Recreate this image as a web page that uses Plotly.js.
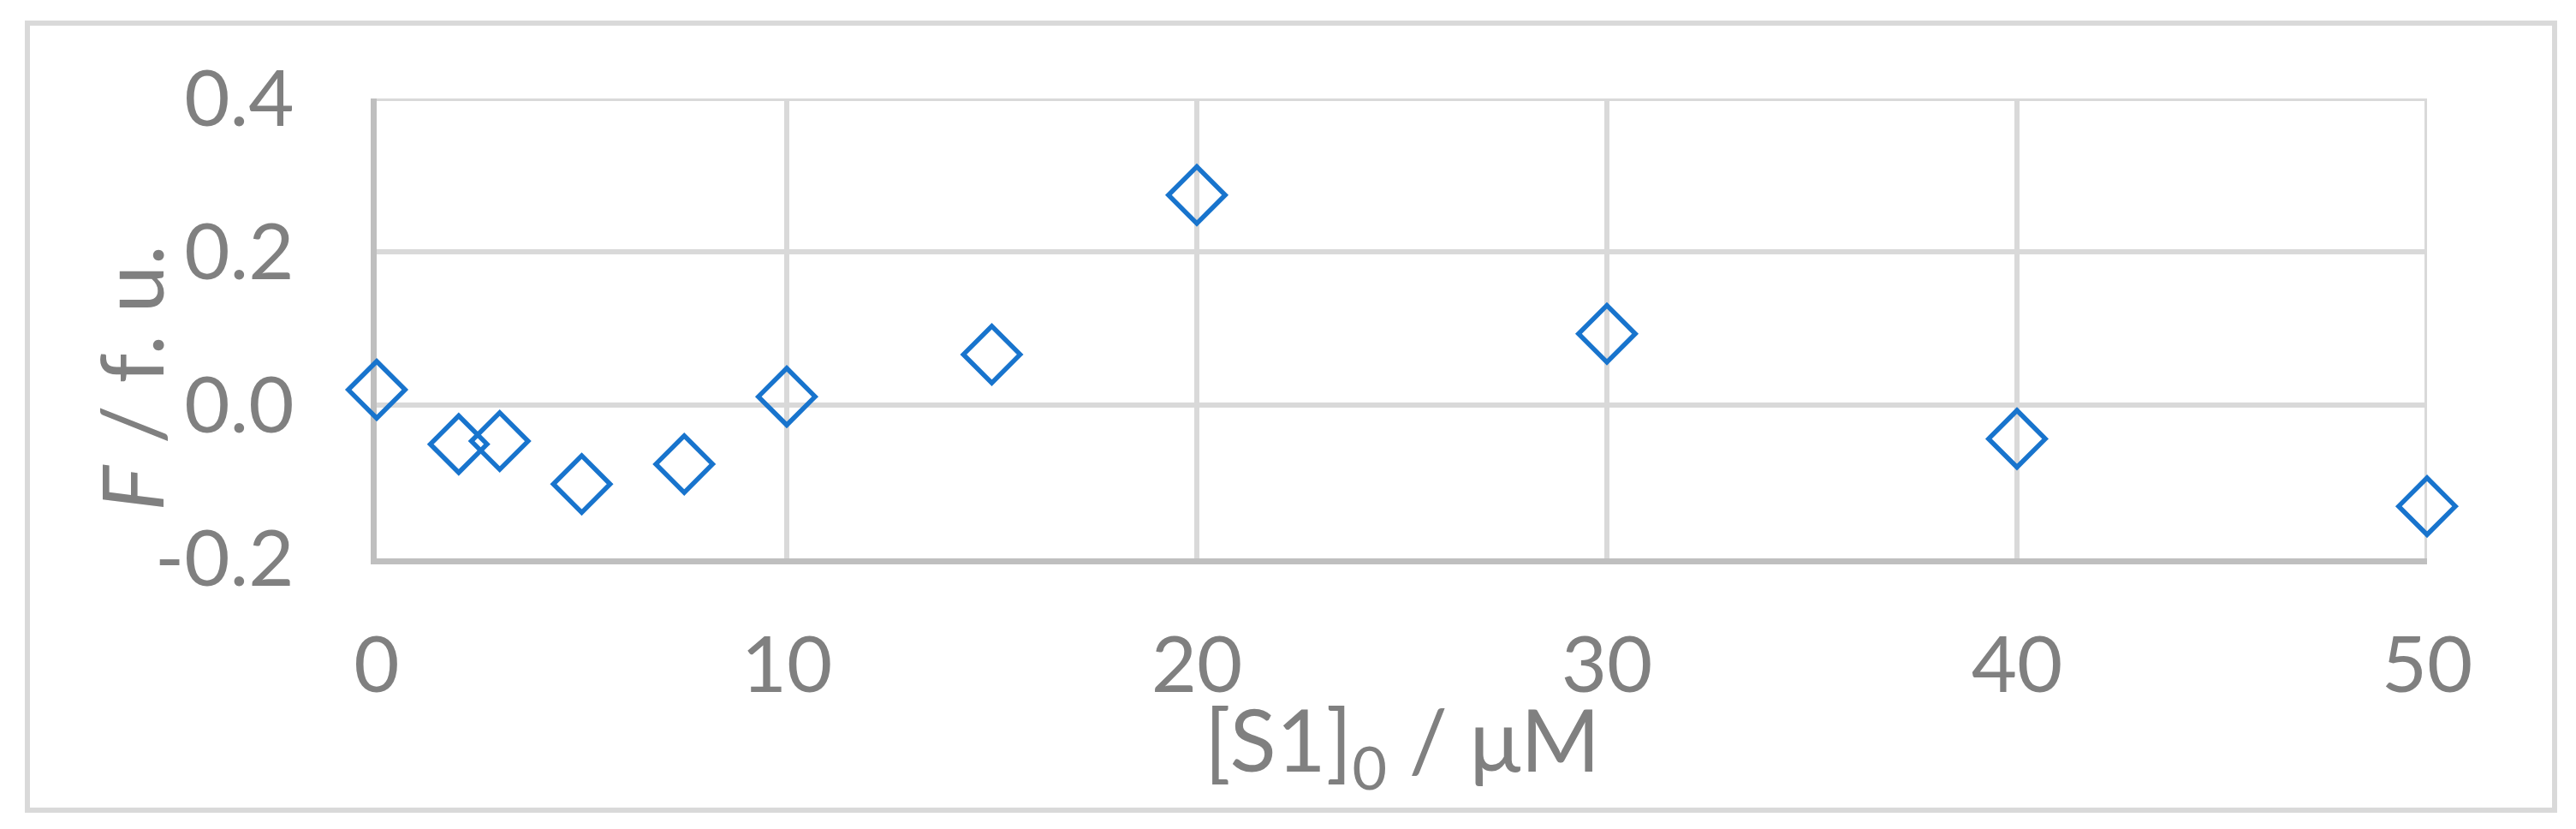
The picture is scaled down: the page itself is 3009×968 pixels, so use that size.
<!DOCTYPE html>
<html>
<head>
<meta charset="utf-8">
<script src="https://cdn.plot.ly/plotly-3.0.1.min.js"></script>
<style>
  html, body { margin: 0; padding: 0; background: #ffffff; }
  #chart { width: 3009px; height: 968px; }
  #frame {
    position: absolute;
    left: 29px; top: 24px;
    width: 2946px; height: 913px;
    border: 6px solid #d9d9d9;
    pointer-events: none;
  }
</style>
</head>
<body>
<div id="chart"></div>
<div id="frame"></div>
<script>
  // [S1]0 in µM and the measured F in f. u.
  const concentrations = [0, 2, 3, 5, 7.5, 10, 15, 20, 30, 40, 50];
  const fValues = [0.020, -0.051, -0.047, -0.103, -0.077, 0.011, 0.066, 0.274, 0.093, -0.044, -0.132];

  const xTicks = [0, 10, 20, 30, 40, 50];
  const yTicks = [-0.2, 0, 0.2, 0.4];
  const yTickText = ["-0.2", "0.0", "0.2", "0.4"];
  const xRange = [0, 50];
  const yRange = [-0.2, 0.4];

  const grey = "#808080";
  const gridGrey = "#d9d9d9";
  const font = "Lato, 'Open Sans', sans-serif";

  // plot area in pixels, used to place the two axis titles
  const plotLeft = 440, plotRight = 2834, plotTop = 115, plotBottom = 652;
  const toPaperX = (px) => (px - plotLeft) / (plotRight - plotLeft);
  const toPaperY = (py) => (plotBottom - py) / (plotBottom - plotTop);

  const trace = {
    type: "scatter",
    mode: "markers",
    x: concentrations,
    y: fValues,
    cliponaxis: false,
    marker: {
      symbol: "diamond-open",
      size: 51,
      color: "#1874cd",
      line: { color: "#1874cd", width: 5.5 }
    },
    hovertemplate: "%{x}: %{y}<extra></extra>"
  };

  // grid lines that sit on the top and right edges of the plot area
  const edgeLines = [
    {
      type: "line", xref: "x", yref: "y", layer: "below",
      x0: xRange[0], x1: xRange[1], y0: yRange[1], y1: yRange[1],
      line: { color: gridGrey, width: 6 }
    },
    {
      type: "line", xref: "x", yref: "y", layer: "below",
      x0: xRange[1], x1: xRange[1], y0: yRange[0], y1: yRange[1],
      line: { color: gridGrey, width: 6 }
    }
  ];

  const layout = {
    width: 3009,
    height: 968,
    margin: { l: plotLeft, r: 3009 - plotRight - 1, t: plotTop, b: 968 - plotBottom },
    paper_bgcolor: "#ffffff",
    plot_bgcolor: "#ffffff",
    font: { family: font, color: grey },
    showlegend: false,
    shapes: edgeLines,
    xaxis: {
      range: xRange,
      tickvals: xTicks,
      showgrid: true,
      gridcolor: gridGrey,
      gridwidth: 6,
      zeroline: false,
      showline: true,
      linecolor: "#bfbfbf",
      linewidth: 7,
      layer: "above traces",
      ticks: "",
      ticklabelstandoff: 39,
      tickfont: { size: 92, color: grey, family: font }
    },
    yaxis: {
      range: yRange,
      tickvals: yTicks,
      ticktext: yTickText,
      showgrid: true,
      gridcolor: gridGrey,
      gridwidth: 6,
      zeroline: false,
      showline: true,
      linecolor: "#bfbfbf",
      linewidth: 7,
      layer: "below traces",
      ticks: "",
      ticklabelstandoff: 71,
      tickfont: { size: 92, color: grey, family: font }
    },
    annotations: [
      {
        text: "[S1]<sub>0</sub> / μM",
        xref: "paper",
        yref: "paper",
        x: 0.5,
        y: toPaperY(800),
        xanchor: "center",
        yanchor: "top",
        showarrow: false,
        font: { size: 100, color: grey, family: font }
      },
      {
        text: "<i>F</i> / f. u.",
        xref: "paper",
        yref: "paper",
        x: toPaperX(152),
        y: toPaperY(441),
        xanchor: "center",
        yanchor: "middle",
        textangle: -90,
        showarrow: false,
        font: { size: 100, color: grey, family: font }
      }
    ]
  };

  Plotly.newPlot("chart", [trace], layout, { displayModeBar: false, responsive: false });
</script>
</body>
</html>
